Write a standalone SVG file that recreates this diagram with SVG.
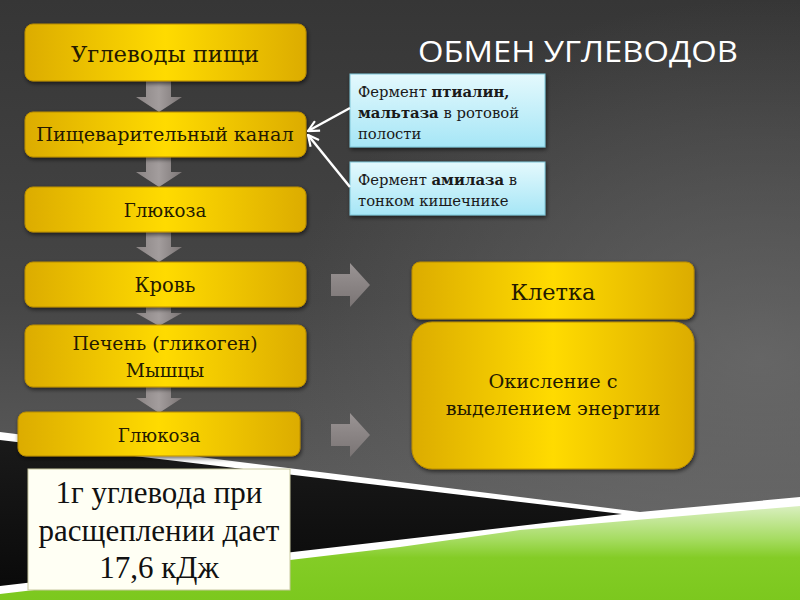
<svg xmlns="http://www.w3.org/2000/svg" width="800" height="600" viewBox="0 0 800 600">
<defs>
  <linearGradient id="bg" x1="0" y1="0" x2="0" y2="1">
    <stop offset="0" stop-color="#363636"/>
    <stop offset="0.5" stop-color="#464646"/>
    <stop offset="0.85" stop-color="#5e5e5e"/>
  </linearGradient>
  <radialGradient id="bgR" cx="0.95" cy="0.6" r="0.6">
    <stop offset="0" stop-color="#707070" stop-opacity="0.7"/>
    <stop offset="1" stop-color="#707070" stop-opacity="0"/>
  </radialGradient>
  <linearGradient id="green" x1="0" y1="0" x2="0" y2="1">
    <stop offset="0" stop-color="#d9efbf"/>
    <stop offset="0.35" stop-color="#a6dc62"/>
    <stop offset="0.55" stop-color="#84cc26"/>
    <stop offset="1" stop-color="#7cc81e"/>
  </linearGradient>
  <linearGradient id="black" x1="0" y1="0" x2="0" y2="1">
    <stop offset="0" stop-color="#1a1a1a"/>
    <stop offset="1" stop-color="#0a0a0a"/>
  </linearGradient>
  <linearGradient id="gold" x1="0" y1="0" x2="1" y2="0">
    <stop offset="0" stop-color="#dcac00"/>
    <stop offset="0.5" stop-color="#ffdb00"/>
    <stop offset="1" stop-color="#dcac00"/>
  </linearGradient>
  <linearGradient id="cyan" x1="0" y1="0" x2="0" y2="1">
    <stop offset="0" stop-color="#e4f9fd"/>
    <stop offset="1" stop-color="#a6e6f6"/>
  </linearGradient>
  <linearGradient id="garrowV" x1="0" y1="0" x2="1" y2="0">
    <stop offset="0" stop-color="#8a8484"/>
    <stop offset="0.5" stop-color="#a39d9d"/>
    <stop offset="1" stop-color="#7a7474"/>
  </linearGradient>
  <linearGradient id="garrowH" x1="0" y1="0" x2="0" y2="1">
    <stop offset="0" stop-color="#9a9494"/>
    <stop offset="0.5" stop-color="#8a8484"/>
    <stop offset="1" stop-color="#7a7474"/>
  </linearGradient>
  <filter id="sh" x="-10%" y="-20%" width="120%" height="150%">
    <feGaussianBlur in="SourceAlpha" stdDeviation="2"/>
    <feOffset dx="1" dy="2" result="b"/>
    <feComponentTransfer><feFuncA type="linear" slope="0.6"/></feComponentTransfer>
    <feMerge><feMergeNode/><feMergeNode in="SourceGraphic"/></feMerge>
  </filter>
  <marker id="open" viewBox="0 0 12 12" refX="11" refY="6" markerWidth="13" markerHeight="13" markerUnits="userSpaceOnUse" orient="auto">
    <path d="M1,1 L11,6 L1,11" fill="none" stroke="#ffffff" stroke-width="2"/>
  </marker>
</defs>
<style>
  .gbox { fill: url(#gold); stroke: #b88c00; stroke-width: 1; filter: url(#sh); }
  .cbox { fill: url(#cyan); stroke: #7fc6d8; stroke-width: 1; filter: url(#sh); }
  .gt { font-family: "DejaVu Serif", "Liberation Serif", serif; fill: #241a00; text-anchor: middle; }
  .ct { font-family: "DejaVu Serif", "Liberation Serif", serif; fill: #1a1a1a; font-size: 14.8px; }
  .wt { font-family: "Liberation Serif", "Times New Roman", serif; font-size: 31px; fill: #111111; text-anchor: middle; }
  .b { font-weight: bold; }
  .ga { fill: url(#garrowV); }
  .gh { fill: url(#garrowH); }
  .conn { stroke: #ffffff; stroke-width: 2.5; fill: none; marker-end: url(#open); }
</style>

<!-- background -->
<rect x="0" y="0" width="800" height="600" fill="url(#bg)"/>
<rect x="0" y="0" width="800" height="600" fill="url(#bgR)"/>
<!-- black wedge and green band -->
<path d="M0,432 L640,512 L800,497 L800,600 L0,600 Z" fill="#ffffff"/>
<path d="M0,440 L622,514 L0,586 Z" fill="url(#black)"/>
<path d="M0,594 L400,547 L520,530 L800,506 L800,600 L0,600 Z" fill="url(#green)"/>

<!-- title -->
<text x="418" y="62" font-family="'Open Sans', 'Liberation Sans', sans-serif" font-size="29" fill="#ffffff" textLength="320" lengthAdjust="spacingAndGlyphs">ОБМЕН УГЛЕВОДОВ</text>

<!-- block arrows -->
<g id="arrows">
  <path class="ga" d="M146,80 H171 V97 H182 L159,112 L136,97 H146 Z"/>
  <path class="ga" d="M146,156 H171 V172 H182 L159,187 L136,172 H146 Z"/>
  <path class="ga" d="M146,231 H171 V247 H182 L159,262 L136,247 H146 Z"/>
  <path class="ga" d="M146,306 H171 V313 H182 L159,326 L136,313 H146 Z"/>
  <path class="ga" d="M146,386 H171 V398 H182 L159,413 L136,398 H146 Z"/>
  <path class="gh" d="M331,274 H350 V263 L370,285 L350,307 V296 H331 Z"/>
  <path class="gh" d="M331,424 H350 V413 L370,435 L350,457 V446 H331 Z"/>
</g>

<!-- nodes -->
<g id="n1"><rect class="gbox" x="25" y="24" width="281" height="57" rx="8"/><text class="gt" x="165" y="62" font-size="22.7">Углеводы пищи</text></g>
<g id="n2"><rect class="gbox" x="25" y="112" width="281" height="45" rx="8"/><text class="gt" x="165" y="141" font-size="19.2">Пищеварительный канал</text></g>
<g id="n3"><rect class="gbox" x="25" y="187" width="281" height="45" rx="8"/><text class="gt" x="165" y="217" font-size="18.2">Глюкоза</text></g>
<g id="n4"><rect class="gbox" x="25" y="262" width="281" height="45" rx="8"/><text class="gt" x="165" y="292" font-size="19.5">Кровь</text></g>
<g id="n5"><rect class="gbox" x="25" y="325" width="281" height="62" rx="8"/><text class="gt" x="165" y="350" font-size="18.8">Печень (гликоген)</text><text class="gt" x="165" y="377" font-size="18.8">Мышцы</text></g>
<g id="n6"><rect class="gbox" x="18" y="412" width="282" height="44" rx="8"/><text class="gt" x="159" y="442" font-size="18.2">Глюкоза</text></g>
<g id="n7"><rect class="gbox" x="412" y="262" width="282" height="57" rx="8"/><text class="gt" x="553" y="300" font-size="22.5">Клетка</text></g>
<g id="n8"><rect class="gbox" x="412" y="322" width="282" height="147" rx="20"/><text class="gt" x="553" y="388" font-size="19.3">Окисление с</text><text class="gt" x="553" y="415" font-size="19.3">выделением энергии</text></g>

<g id="c1"><rect class="cbox" x="350" y="74" width="195" height="73"/>
  <text class="ct" x="358" y="97">Фермент <tspan class="b">птиалин,</tspan></text>
  <text class="ct" x="358" y="118"><tspan class="b">мальтаза</tspan> в ротовой</text>
  <text class="ct" x="358" y="139">полости</text></g>
<g id="c2"><rect class="cbox" x="350" y="162" width="195" height="53"/>
  <text class="ct" x="358" y="185">Фермент <tspan class="b">амилаза</tspan> в</text>
  <text class="ct" x="358" y="206">тонком кишечнике</text></g>

<g id="n9"><rect x="28" y="469" width="262" height="121" fill="#fffff4" stroke="#c8c8a0" stroke-width="1"/>
  <text class="wt" x="159" y="503">1г углевода при</text>
  <text class="wt" x="159" y="541">расщеплении дает</text>
  <text class="wt" x="159" y="578">17,6 кДж</text></g>

<!-- connectors -->
<g id="connectors">
  <line class="conn" x1="350" y1="108" x2="308" y2="131"/>
  <line class="conn" x1="350" y1="187" x2="308" y2="135"/>
</g>
</svg>
